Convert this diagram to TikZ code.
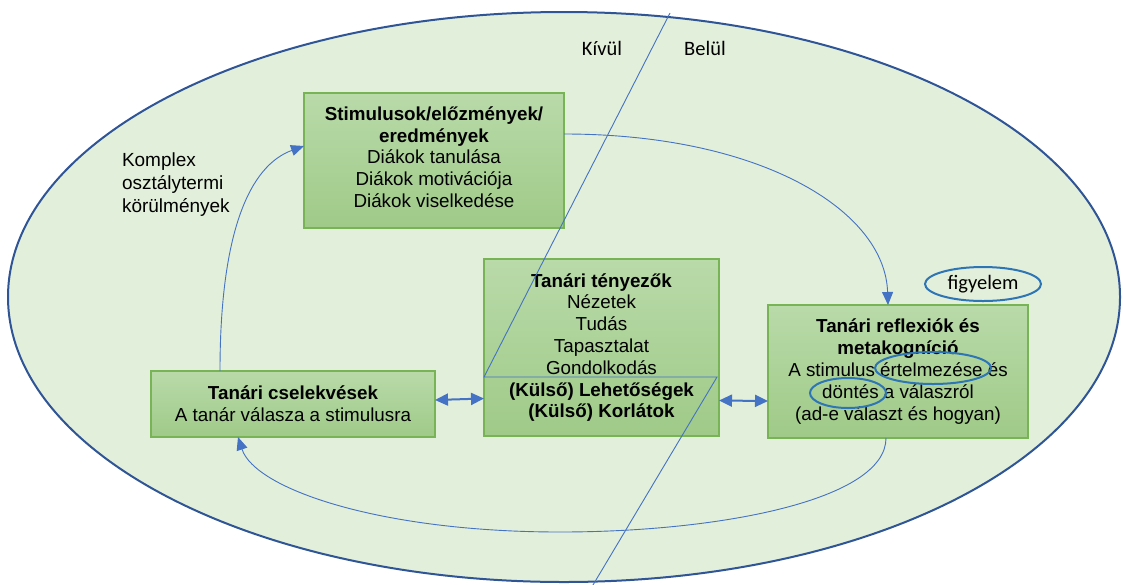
\documentclass[tikz,border=0pt]{standalone}
\usepackage{fontspec}
\setmainfont{Liberation Sans}
\newfontfamily\calibri{Carlito}
\usetikzlibrary{arrows.meta,shapes.geometric,calc}
\definecolor{bgfill}{HTML}{E2EFDA}
\definecolor{bgline}{HTML}{2F5597}
\definecolor{boxtop}{HTML}{B9DAA9}
\definecolor{boxbot}{HTML}{9FCA88}
\definecolor{boxline}{HTML}{78B456}
\definecolor{arrcol}{HTML}{4472C4}
\definecolor{ovalcol}{HTML}{2E75B6}
\tikzset{
  box/.style={draw=boxline, line width=1.2pt, top color=boxtop, bottom color=boxbot,
    inner sep=0pt, outer sep=0pt, align=center, text=black,
    font=\fontsize{18.8}{21.8}\selectfont},
  conn/.style={draw=arrcol, line width=0.9pt, -{Triangle[length=13pt,width=11pt]}},
  dconn/.style={draw=arrcol, line width=2pt, {Triangle[length=13pt,width=12pt]}-{Triangle[length=13pt,width=12pt]}},
  divider/.style={draw=arrcol, line width=0.9pt},
  ovalmark/.style={draw=ovalcol, line width=2pt, ellipse, inner sep=0pt, outer sep=0pt},
  plain/.style={inner sep=0pt, outer sep=0pt, text=black},
}
\begin{document}
\begin{tikzpicture}[x=1pt,y=-1pt]
\useasboundingbox (0,0) rectangle (1123,584);
% big ellipse
\draw[fill=bgfill, draw=bgline, line width=2pt] (564,297) ellipse [x radius=556pt, y radius=285pt];

% boxes
\node[box, minimum width=260pt, minimum height=135pt] (stim) at (434,160.5)
  {\textbf{Stimulusok/előzmények/}\\\textbf{eredmények}\\Diákok tanulása\\Diákok motivációja\\Diákok viselkedése\\[-15pt]\mbox{}};
\node[box, minimum width=235pt, minimum height=177pt] (teny) at (601.5,347.5)
  {\textbf{Tanári tényezők}\\Nézetek\\Tudás\\Tapasztalat\\Gondolkodás\\\textbf{(Külső) Lehetőségek}\\\textbf{(Külső) Korlátok}};
\node[box, minimum width=260pt, minimum height=133pt] (refl) at (898,371.5)
  {\textbf{Tanári reflexiók és}\\\textbf{metakogníció}\\A stimulus értelmezése és\\döntés a válaszról\\(ad-e választ és hogyan)};
\node[box, minimum width=284pt, minimum height=66pt] (csel) at (293,404)
  {\textbf{Tanári cselekvések}\\A tanár válasza a stimulusra};

% dividing line (kívül / belül)
\coordinate (d1) at (670,13);
\coordinate (d2) at (484,377);
\coordinate (d3) at (717,377);
\coordinate (d4) at (590,590);
\draw[divider] (d1) -- (d2) -- (d3) -- (d4);

% labels
\node[plain, font=\calibri\fontsize{20.5}{24}\selectfont] (kivul) at (602,48) {Kívül};
\node[plain, font=\calibri\fontsize{20.5}{24}\selectfont] (belul) at (705,48) {Belül};
\node[plain, anchor=west, align=left, font=\fontsize{19}{23}\selectfont] (komplex) at (122,185)
  {Komplex\\osztálytermi\\körülmények};
\node[ovalmark, minimum width=116pt, minimum height=34pt, font=\calibri\fontsize{20.5}{24}\selectfont] (figy) at (983,284) {figyelem};
\node[ovalmark, minimum width=116pt, minimum height=32pt] (ertel) at (933,368) {};
\node[ovalmark, minimum width=76pt, minimum height=30pt] (dont) at (848,393) {};

% connectors
\draw[conn] ($(csel.north)+(-73,0)$) .. controls ($(csel.north)+(-73,-140)$) and ($(stim.west)+(-54,5)$) .. ($(stim.west)+(0,-14.5)$);
\draw[conn] ($(stim.east)+(0,-26.5)$) .. controls ($(stim.east)+(196,-26.5)$) and ($(refl.north)+(-13,-95)$) .. ($(refl.north)+(-10,0)$);
\draw[conn] ($(refl.south)+(-12,0)$) .. controls ($(refl.south)+(-12,62)$) and (720,532) .. (560,532)
   .. controls (380,532) and ($(csel.south)+(-38,52)$) .. ($(csel.south)+(-55,0)$);
\draw[dconn] ($(csel.east)+(0,-4)$) -- ($(teny.west)+(0,51)$);
\draw[dconn] ($(teny.east)+(0,53)$) -- ($(refl.west)+(0,29.5)$);
\end{tikzpicture}
\end{document}
